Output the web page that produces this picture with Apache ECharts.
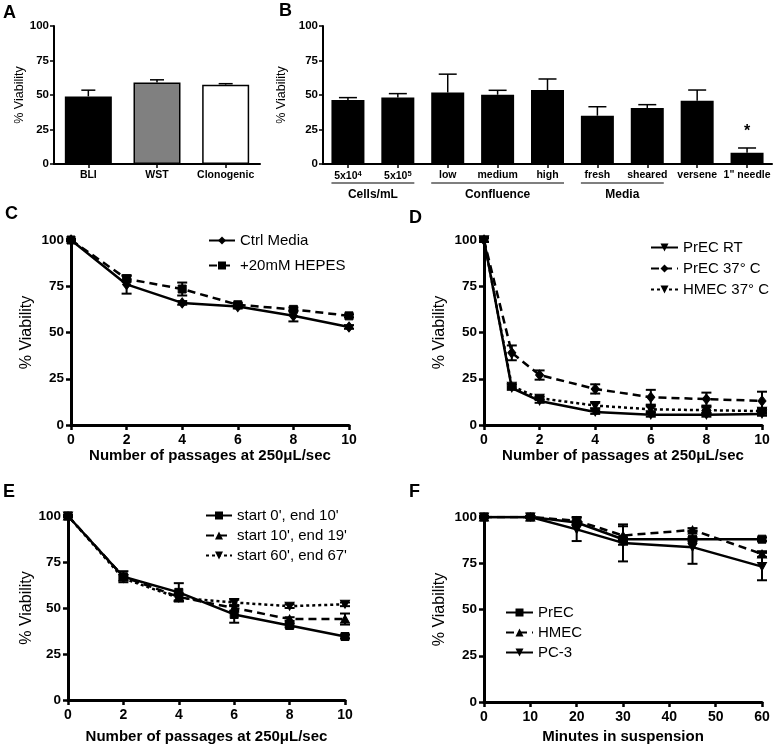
<!DOCTYPE html>
<html><head><meta charset="utf-8">
<script src="https://cdn.jsdelivr.net/npm/echarts@6/dist/echarts.min.js"></script>
<style>html,body{margin:0;padding:0;background:#fff}#c{width:777px;height:750px}</style>
</head><body><div id="c"></div><script>
// ---------- DATA ----------
const aCategories = ['BLI', 'WST', 'Clonogenic'];
const aValues = [49, 59, 57.5];
const aErrors = [4.5, 2, 0.7];

const bCategories = ['5x10^4', '5x10^5', 'low', 'medium', 'high', 'fresh', 'sheared', 'versene', '1" needle'];
const bValues = [46.3, 48.2, 51.8, 50.2, 53.6, 35, 40.6, 45.8, 8.2];
const bErrors = [1.8, 2.8, 13.3, 3.2, 8, 6.5, 2.4, 7.8, 3.4];
const bGroups = [['Cells/mL', 0, 1], ['Confluence', 2, 4], ['Media', 5, 6]];
const bStarIndex = 8;

const passages = [0, 2, 4, 6, 8, 10];
const cCtrl = [100, 76, 66, 64, 59, 53];
const cCtrlErr = [0.5, 5, 1, 1, 3, 1];
const cHepes = [100, 79, 73.5, 65, 62.5, 59];
const cHepesErr = [0.5, 1.5, 3.5, 1, 1, 0.8];

const dPassages = [0, 1, 2, 4, 6, 8, 10];
const dPrecRT = [100, 20, 13, 7, 5.5, 5.5, 6];
const dPrecRTErr = [1, 1, 1, 1, 1, 1, 1];
const dPrec37 = [100, 39, 27, 19.5, 15, 14, 13];
const dPrec37Err = [1, 4, 2.5, 2.5, 4, 3.5, 5];
const dHmec37 = [100, 21, 14.5, 10.5, 8.5, 8, 7.5];
const dHmec37Err = [1, 1, 1, 1.5, 1.5, 1.5, 1.5];

const eStart0 = [100, 67, 58.5, 46.5, 40.5, 34.5];
const eStart0Err = [0.5, 3, 5, 4.5, 1, 1];
const eStart10 = [100, 67, 56, 50, 44, 44];
const eStart10Err = [0.5, 1, 2, 1.5, 1, 3];
const eStart60 = [100, 66, 55.5, 53, 51, 52];
const eStart60Err = [0.5, 1, 1.5, 1.5, 1, 1];

const minutes = [0, 10, 20, 30, 45, 60];
const fPrec = [100, 100, 97, 88, 88, 88];
const fPrecErr = [0.5, 0.5, 1, 1, 1, 1];
const fHmec = [100, 100, 98, 90, 93, 80];
const fHmecErr = [0.5, 0.5, 2, 5, 1, 1.5];
const fPc3 = [100, 100, 93.3, 86, 83.7, 73.2];
const fPc3Err = [0.5, 0.5, 6.3, 10, 9, 7.4];

// ---------- STYLE ----------
const FONT = '"Liberation Sans", Arial, Helvetica, sans-serif';
const DOWN_TRI = 'path://M0,0L10,0L5,9Z';
const chart = echarts.init(document.getElementById('c'), null, {renderer: 'canvas'});

const grids = [
  {left: 54, top: 26, width: 206, height: 138},
  {left: 323, top: 26, width: 449, height: 138},
  {left: 71, top: 240, width: 278, height: 185},
  {left: 484, top: 240, width: 278, height: 185},
  {left: 68, top: 516, width: 277, height: 184},
  {left: 484, top: 517, width: 278, height: 185}
].map(g => Object.assign({containLabel: false, outerBoundsMode: 'none'}, g));

function yAx(i, small, gap) {
  return {
    gridIndex: i, type: 'value', min: 0, max: 100, interval: 25,
    name: '% Viability', nameLocation: 'middle', nameRotate: 90, nameGap: gap,
    nameTextStyle: {fontFamily: FONT, fontSize: small ? 12.5 : 16, color: '#000'},
    axisLine: {show: true, lineStyle: {color: '#000', width: small ? 2 : 3}},
    axisTick: {show: true, length: small ? 4 : 5, lineStyle: {color: '#000', width: small ? 1.5 : 2.5}},
    axisLabel: {fontFamily: FONT, fontWeight: 'bold', fontSize: small ? 11.5 : 13.5, color: '#000', margin: small ? 5 : 7},
    splitLine: {show: false}
  };
}
function xVal(i, max, interval, name, gap) {
  return {
    gridIndex: i, type: 'value', min: 0, max: max, interval: interval,
    name: name, nameLocation: 'middle', nameGap: gap,
    nameTextStyle: {fontFamily: FONT, fontSize: 15, fontWeight: 'bold', color: '#000'},
    axisLine: {show: true, onZero: false, lineStyle: {color: '#000', width: 3}},
    axisTick: {show: true, length: 5, lineStyle: {color: '#000', width: 2.5}},
    axisLabel: {fontFamily: FONT, fontWeight: 'bold', fontSize: 14, color: '#000', margin: 8},
    splitLine: {show: false}
  };
}
function xCat(i, cats, fmt) {
  return {
    gridIndex: i, type: 'category', data: cats,
    axisLine: {show: true, lineStyle: {color: '#000', width: 2}},
    axisTick: {show: true, alignWithLabel: true, length: 4, lineStyle: {color: '#000', width: 1.5}},
    axisLabel: {fontFamily: FONT, fontWeight: 'bold', fontSize: 10.5, color: '#000', margin: 6, interval: 0,
      formatter: fmt, rich: {sup: {fontFamily: FONT, fontWeight: 'bold', fontSize: 7.5, color: '#000', verticalAlign: 'top', padding: [0, 0, 5, 0]}, n: {fontFamily: FONT, fontWeight: 'bold', fontSize: 10.5, color: '#000'}}},
    splitLine: {show: false}
  };
}

function errSeries(idx, xs, vals, errs, capHalf, upOnly, lw) {
  const data = xs.map((x, i) => [x, upOnly ? vals[i] : vals[i] - errs[i], vals[i] + errs[i]]);
  return {
    type: 'custom', coordinateSystem: 'cartesian2d', xAxisIndex: idx, yAxisIndex: idx,
    data: data, z: 5, silent: true, encode: {x: 0, y: [1, 2]},
    renderItem: function (params, api) {
      const lo = api.coord([api.value(0), api.value(1)]);
      const hi = api.coord([api.value(0), api.value(2)]);
      const st = {stroke: '#000', lineWidth: lw};
      const ch = [
        {type: 'line', shape: {x1: lo[0], y1: lo[1], x2: hi[0], y2: hi[1]}, style: st},
        {type: 'line', shape: {x1: hi[0] - capHalf, y1: hi[1], x2: hi[0] + capHalf, y2: hi[1]}, style: st}
      ];
      if (!upOnly) ch.push({type: 'line', shape: {x1: lo[0] - capHalf, y1: lo[1], x2: lo[0] + capHalf, y2: lo[1]}, style: st});
      return {type: 'group', children: ch};
    }
  };
}
function lineSeries(idx, name, xs, vals, dash, symbol, size) {
  return {
    type: 'line', name: name, xAxisIndex: idx, yAxisIndex: idx,
    data: xs.map((x, i) => [x, vals[i]]),
    symbol: symbol, symbolSize: size, showSymbol: true,
    lineStyle: {color: '#000', width: 2.5, type: dash},
    itemStyle: {color: '#000', borderColor: '#000'},
    z: 4
  };
}
function legendAt(names, left, top, w, gap) {
  return {
    data: names, orient: 'vertical', left: left, top: top, itemWidth: w, itemHeight: 10, itemGap: gap,
    textStyle: {fontFamily: FONT, fontSize: 15, color: '#000'}, selectedMode: false, padding: 0
  };
}

const supFmt = v => v.indexOf('^') >= 0 ? '{n|' + v.split('^')[0] + '}{sup|' + v.split('^')[1] + '}' : v;

const series = [
  {
    type: 'bar', xAxisIndex: 0, yAxisIndex: 0, barWidth: 47,
    data: aValues.map((v, i) => ({value: v, itemStyle: {color: ['#000', '#808080', '#fff'][i], borderColor: '#000', borderWidth: 1.5}})),
    z: 3
  },
  errSeries(0, aCategories.map((c, i) => i), aValues, aErrors, 7, true, 1.5),
  {
    type: 'bar', xAxisIndex: 1, yAxisIndex: 1, barWidth: 33,
    data: bValues.map((v, i) => ({value: v, label: i === bStarIndex ? {show: true, position: 'top', distance: 13, formatter: '*', fontSize: 16, fontWeight: 'bold', fontFamily: FONT, color: '#000'} : {show: false}})),
    itemStyle: {color: '#000'}, z: 3
  },
  errSeries(1, bCategories.map((c, i) => i), bValues, bErrors, 9, true, 1.5),

  lineSeries(2, 'Ctrl Media', passages, cCtrl, 'solid', 'diamond', [8, 10]),
  lineSeries(2, '+20mM HEPES', passages, cHepes, [8, 5], 'rect', 8),
  errSeries(2, passages, cCtrl, cCtrlErr, 5, false, 2),
  errSeries(2, passages, cHepes, cHepesErr, 5, false, 2),

  lineSeries(3, 'PrEC RT', dPassages, dPrecRT, 'solid', DOWN_TRI, [9, 8]),
  lineSeries(3, 'PrEC 37° C', dPassages, dPrec37, [8, 5], 'diamond', [8, 10]),
  lineSeries(3, 'HMEC 37° C', dPassages, dHmec37, [3, 3], DOWN_TRI, [9, 8]),
  errSeries(3, dPassages, dPrecRT, dPrecRTErr, 5, false, 2),
  errSeries(3, dPassages, dPrec37, dPrec37Err, 5, false, 2),
  errSeries(3, dPassages, dHmec37, dHmec37Err, 5, false, 2),

  lineSeries(4, "start 0', end 10'", passages, eStart0, 'solid', 'rect', 8),
  lineSeries(4, "start 10', end 19'", passages, eStart10, [8, 5], 'triangle', [9, 8]),
  lineSeries(4, "start 60', end 67'", passages, eStart60, [3, 3], DOWN_TRI, [9, 8]),
  errSeries(4, passages, eStart0, eStart0Err, 5, false, 2),
  errSeries(4, passages, eStart10, eStart10Err, 5, false, 2),
  errSeries(4, passages, eStart60, eStart60Err, 5, false, 2),

  lineSeries(5, 'PrEC', minutes, fPrec, 'solid', 'rect', 8),
  lineSeries(5, 'HMEC', minutes, fHmec, [8, 5], 'triangle', [9, 8]),
  lineSeries(5, 'PC-3', minutes, fPc3, 'solid', DOWN_TRI, [9, 8]),
  errSeries(5, minutes, fPrec, fPrecErr, 5, false, 2),
  errSeries(5, minutes, fHmec, fHmecErr, 5, false, 2),
  errSeries(5, minutes, fPc3, fPc3Err, 5, false, 2)
];

const panelLetters = [['A', 3, 4], ['B', 279, 2], ['C', 5, 205], ['D', 409, 209], ['E', 3, 483], ['F', 409, 483]];

chart.setOption({
  animation: false,
  backgroundColor: '#fff',
  textStyle: {fontFamily: FONT},
  grid: grids,
  xAxis: [
    xCat(0, aCategories, v => v),
    xCat(1, bCategories, supFmt),
    xVal(2, 10, 2, 'Number of passages at 250\u03bcL/sec', 23),
    xVal(3, 10, 2, 'Number of passages at 250\u03bcL/sec', 23),
    xVal(4, 10, 2, 'Number of passages at 250\u03bcL/sec', 29),
    xVal(5, 60, 10, 'Minutes in suspension', 27)
  ],
  yAxis: [yAx(0, true, 26), yAx(1, true, 24), yAx(2, false, 36), yAx(3, false, 36), yAx(4, false, 32), yAx(5, false, 36)],
  legend: [
    legendAt(['Ctrl Media', '+20mM HEPES'], 208, 233, 26, 10),
    legendAt(['PrEC RT', 'PrEC 37° C', 'HMEC 37° C'], 650, 240, 27, 6),
    legendAt(["start 0', end 10'", "start 10', end 19'", "start 60', end 67'"], 205, 508, 26, 5),
    legendAt(['PrEC', 'HMEC', 'PC-3'], 505, 605, 27, 5)
  ],
  series: series,
  graphic: panelLetters.map(p => ({type: 'text', left: p[1], top: p[2], style: {text: p[0], font: 'bold 18px ' + FONT, fill: '#000'}}))
});

// group labels under panel B, positioned through the category axis scale
const yBase = chart.convertToPixel({yAxisIndex: 1}, 0);
const halfBar = 33 / 2;
const groupGraphics = [];
bGroups.forEach(g => {
  const x0 = chart.convertToPixel({xAxisIndex: 1}, g[1]) - halfBar;
  const x1 = chart.convertToPixel({xAxisIndex: 1}, g[2]) + halfBar;
  groupGraphics.push({type: 'line', shape: {x1: x0, y1: yBase + 19, x2: x1, y2: yBase + 19}, style: {stroke: '#000', lineWidth: 1.2}});
  groupGraphics.push({type: 'text', x: (x0 + x1) / 2, y: yBase + 31, style: {text: g[0], font: 'bold 12px ' + FONT, fill: '#000', align: 'center', verticalAlign: 'middle'}});
});
chart.setOption({
  graphic: panelLetters.map(p => ({type: 'text', left: p[1], top: p[2], style: {text: p[0], font: 'bold 18px ' + FONT, fill: '#000'}})).concat(groupGraphics)
}, {replaceMerge: ['graphic']});
</script></body></html>
